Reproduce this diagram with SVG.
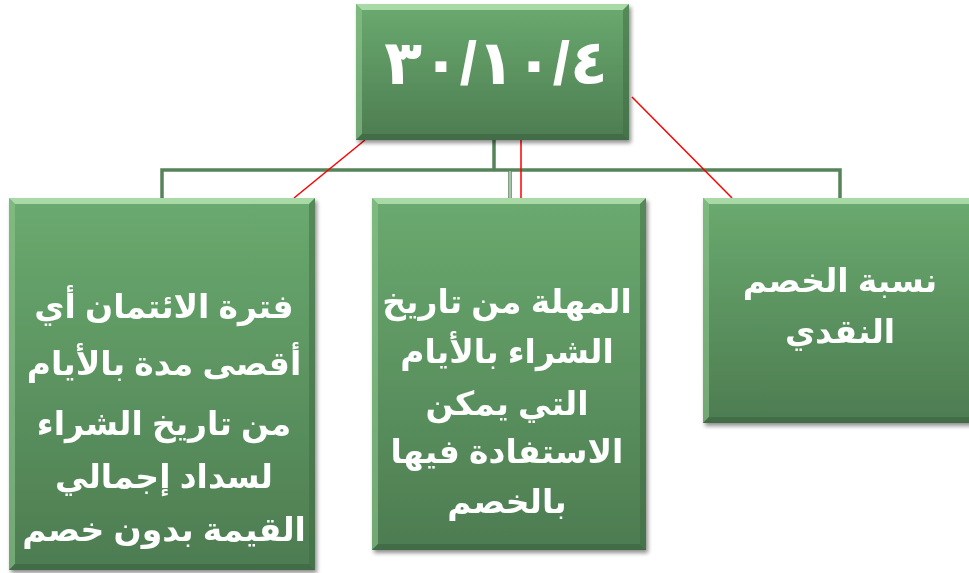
<svg xmlns="http://www.w3.org/2000/svg" width="969" height="573" viewBox="0 0 969 573">
<defs>
<linearGradient id="g" x1="0" y1="0" x2="0" y2="1">
<stop offset="0" stop-color="#6aaa6f"/>
<stop offset="1" stop-color="#4d7c51"/>
</linearGradient>
<filter id="sh" x="-10%" y="-10%" width="130%" height="130%">
<feGaussianBlur in="SourceAlpha" stdDeviation="2"/>
<feOffset dx="2" dy="3" result="b"/>
<feComponentTransfer in="b" result="c"><feFuncA type="linear" slope="0.45"/></feComponentTransfer>
<feMerge><feMergeNode in="c"/><feMergeNode in="SourceGraphic"/></feMerge>
</filter>
</defs>
<style>
.box{fill:url(#g)}
.bt{fill:#b4e2b0;opacity:.85}
.bl{fill:#8cc48c;opacity:.6}
.br{fill:#3f6a43;opacity:.5}
.bb{fill:#3c633f;opacity:.6}
.t{font-family:"Liberation Sans","DejaVu Sans",sans-serif;font-weight:bold;fill:#ffffff;text-anchor:middle;font-size:33px}
.gc{stroke:#55845a;stroke-width:3.5;fill:none}
.rc{stroke:#ff0000;stroke-width:1.5;fill:none}
</style>
<g id="connectors">
<path class="gc" d="M494 140 V170 M162 198 V170 H840 V198 M510 170 V198"/>
<path d="M510 171 V198" stroke="#ffffff" stroke-width="1" fill="none"/>
<path class="rc" d="M365 140 L294 198 M521 140 V198 M632 97 L732 198"/>
</g>
<g id="n0" filter="url(#sh)">
<rect class="box" x="356" y="4" width="273" height="136"/>
<polygon class="bt" points="356,4 629,4 623,10 362,10"/>
<polygon class="bl" points="356,4 362,10 362,134 356,140"/>
<polygon class="br" points="629,4 629,140 623,134 623,10"/>
<polygon class="bb" points="356,140 629,140 623,134 362,134"/>
<text class="t" x="496" y="84" style="font-size:62px;letter-spacing:14px">٣٠/١٠/٤</text>
</g>
<g id="n1" filter="url(#sh)">
<rect class="box" x="9" y="198" width="306" height="372"/>
<polygon class="bt" points="9,198 315,198 309,204 15,204"/>
<polygon class="bl" points="9,198 15,204 15,564 9,570"/>
<polygon class="br" points="315,198 315,570 309,564 309,204"/>
<polygon class="bb" points="9,570 315,570 309,564 15,564"/>
<text class="t" x="164" y="318">فترة الائتمان أي</text>
<text class="t" x="164" y="375">أقصى مدة بالأيام</text>
<text class="t" x="164" y="435">من تاريخ الشراء</text>
<text class="t" x="164" y="488">لسداد إجمالي</text>
<text class="t" x="164" y="541">القيمة بدون خصم</text>
</g>
<g id="n2" filter="url(#sh)">
<rect class="box" x="372" y="198" width="274" height="352"/>
<polygon class="bt" points="372,198 646,198 640,204 378,204"/>
<polygon class="bl" points="372,198 378,204 378,544 372,550"/>
<polygon class="br" points="646,198 646,550 640,544 640,204"/>
<polygon class="bb" points="372,550 646,550 640,544 378,544"/>
<text class="t" x="507" y="313">المهلة من تاريخ</text>
<text class="t" x="507" y="363">الشراء بالأيام</text>
<text class="t" x="507" y="415">التي يمكن</text>
<text class="t" x="507" y="463">الاستفادة فيها</text>
<text class="t" x="507" y="513">بالخصم</text>
</g>
<g id="n3" filter="url(#sh)">
<rect class="box" x="703" y="198" width="290" height="225"/>
<polygon class="bt" points="703,198 993,198 987,204 709,204"/>
<polygon class="bl" points="703,198 709,204 709,417 703,423"/>
<polygon class="bb" points="703,423 993,423 987,417 709,417"/>
<text class="t" x="840" y="292">نسبة الخصم</text>
<text class="t" x="840" y="343">النقدي</text>
</g>
</svg>
